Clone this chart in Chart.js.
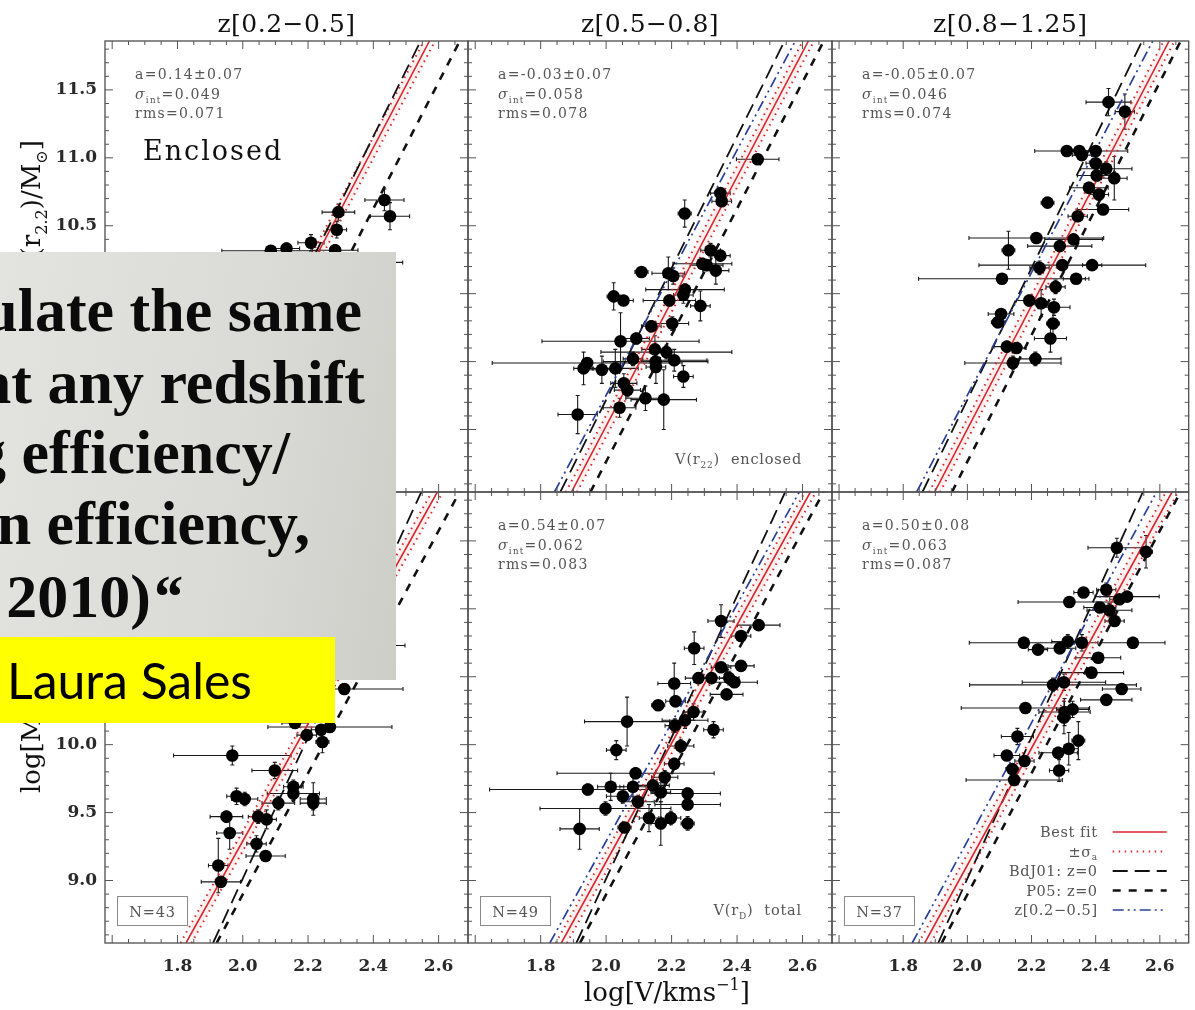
<!DOCTYPE html>
<html><head><meta charset="utf-8">
<script src="https://cdn.jsdelivr.net/npm/chart.js@4.4.1/dist/chart.umd.min.js"></script>
<style>
html,body{margin:0;padding:0;background:#fff;}
#wrap{position:relative;width:1195px;height:1010px;overflow:hidden;background:#fff;}
canvas.pc{position:absolute;left:0;top:0;}
#slide{position:absolute;left:0;top:252px;width:396px;height:428px;overflow:hidden;
 background:linear-gradient(100deg,#e3e3df 0%,#dadad6 60%,#cecec9 100%);}
.ql{position:absolute;white-space:nowrap;font-family:"Liberation Serif","Times New Roman",serif;font-weight:bold;font-size:62px;line-height:62px;color:#0b0b0b;}
.ql i{font-style:italic;}
#yellow{position:absolute;left:0;top:637px;width:335px;height:86px;background:#ffff00;overflow:hidden;}
#ls{position:absolute;left:7px;white-space:nowrap;font-family:Lato,"Open Sans",sans-serif;color:#000;line-height:1;}
</style>
</head>
<body>
<div id="wrap">
 <canvas id="c_tl" class="pc" width="1195" height="1010"></canvas>
 <canvas id="c_tm" class="pc" width="1195" height="1010"></canvas>
 <canvas id="c_tr" class="pc" width="1195" height="1010"></canvas>
 <canvas id="c_bl" class="pc" width="1195" height="1010"></canvas>
 <canvas id="c_bm" class="pc" width="1195" height="1010"></canvas>
 <canvas id="c_br" class="pc" width="1195" height="1010"></canvas>
 <div id="slide">
  <div class="ql" style="right:34px;top:27px">calculate the same</div>
  <div class="ql" style="right:31px;top:99px">at any redshift</div>
  <div class="ql" style="right:106px;top:169px">cooling efficiency/</div>
  <div class="ql" style="right:86px;top:240px">formation efficiency,</div>
  <div class="ql" style="right:214px;top:313px">(Dutton et al. 2010)<i>“</i></div>
 </div>
 <div id="yellow"><span id="ls">Laura Sales</span></div>
</div>
<script>
// ---------------- data ----------------
const xRange = [1.578, 2.69];
const yRange = [8.54, 11.86];
const xTickValues = [1.8, 2.0, 2.2, 2.4, 2.6];
const yTickValues = [9.0, 9.5, 10.0, 10.5, 11.0, 11.5];
const columnTitles = ['z[0.2\u22120.5]', 'z[0.5\u22120.8]', 'z[0.8\u22121.25]'];
const lineY = [8.54, 11.86];

// top row: enclosed mass
const tlX = [2.434, 2.451, 2.293, 2.288, 2.209, 2.134, 2.086, 2.283, 2.370];
const tlY = [10.69, 10.57, 10.60, 10.47, 10.375, 10.333, 10.316, 10.32, 10.23];
const tlXerr = [0.06, 0.06, 0.05, 0.03, 0.04, 0.04, 0.15, 0.07, 0.12];
const tlYerr = [0.08, 0.10, 0.06, 0.06, 0.06, 0.04, 0.03, 0.04, 0.05];

const tmX = [2.463,2.349,2.353,2.240,2.319,2.349,2.294,2.307,2.335,2.108,2.190,2.205,2.241,2.236,2.023,2.053,2.193,2.288,2.202,2.138,2.044,2.092,2.149,2.184,1.942,1.931,1.987,2.028,2.151,2.152,2.208,2.236,2.054,2.065,2.120,2.176,2.041,1.913,2.082];
const tmY = [10.99,10.74,10.68,10.59,10.32,10.28,10.22,10.21,10.17,10.16,10.15,10.13,10.03,9.99,9.98,9.95,9.95,9.91,9.78,9.76,9.65,9.67,9.59,9.57,9.49,9.45,9.44,9.45,9.50,9.46,9.51,9.39,9.34,9.29,9.23,9.22,9.16,9.11,9.52];
const tmXerr = [0.065,0.03,0.03,0.02,0.03,0.03,0.09,0.05,0.04,0.02,0.05,0.03,0.12,0.03,0.02,0.03,0.08,0.03,0.05,0.03,0.24,0.04,0.04,0.20,0.29,0.03,0.05,0.07,0.16,0.03,0.10,0.03,0.04,0.04,0.06,0.10,0.05,0.06,0.03];
const tmYerr = [0.03,0.04,0.03,0.10,0.05,0.03,0.04,0.03,0.10,0.02,0.12,0.06,0.04,0.06,0.10,0.03,0.04,0.11,0.05,0.04,0.21,0.04,0.10,0.05,0.04,0.12,0.10,0.14,0.05,0.12,0.08,0.08,0.07,0.05,0.09,0.22,0.07,0.14,0.05];

const trX = [2.440,2.491,2.310,2.349,2.400,2.357,2.400,2.433,2.403,2.458,2.379,2.410,2.250,2.423,2.344,2.215,2.331,2.128,2.288,2.296,2.389,2.225,2.108,2.339,2.275,2.193,2.230,2.270,2.105,2.095,2.267,2.259,2.123,2.153,2.142,2.212];
const trY = [11.41,11.34,11.05,11.05,11.05,11.02,10.96,10.92,10.87,10.85,10.78,10.73,10.67,10.62,10.57,10.41,10.40,10.32,10.35,10.21,10.21,10.19,10.11,10.11,10.05,9.95,9.93,9.90,9.85,9.79,9.78,9.67,9.61,9.60,9.49,9.52];
const trXerr = [0.07,0.03,0.10,0.04,0.10,0.03,0.03,0.08,0.06,0.04,0.06,0.03,0.02,0.08,0.03,0.21,0.09,0.02,0.10,0.26,0.03,0.03,0.26,0.04,0.03,0.04,0.02,0.05,0.04,0.02,0.02,0.05,0.04,0.03,0.15,0.08];
const trYerr = [0.10,0.13,0.03,0.03,0.03,0.03,0.05,0.05,0.04,0.16,0.04,0.04,0.03,0.03,0.03,0.03,0.03,0.14,0.03,0.03,0.03,0.05,0.03,0.03,0.05,0.04,0.10,0.06,0.03,0.04,0.10,0.10,0.04,0.03,0.05,0.05];

// bottom row: total mass
const blX = [2.311,2.160,2.267,2.240,2.244,2.196,1.968,2.098,2.155,2.155,1.981,2.006,2.216,2.216,2.109,1.950,2.073,2.047,1.960,2.042,2.070,1.925,1.933,2.437];
const blY = [10.41,10.16,10.13,10.11,10.02,10.07,9.92,9.81,9.69,9.64,9.62,9.60,9.60,9.57,9.57,9.47,9.45,9.47,9.35,9.27,9.18,9.11,8.99,10.73];
const blXerr = [0.18,0.04,0.19,0.03,0.02,0.03,0.18,0.07,0.03,0.08,0.03,0.04,0.04,0.04,0.05,0.05,0.03,0.03,0.04,0.03,0.06,0.03,0.06,0.06];
const blYerr = [0.04,0.04,0.04,0.03,0.08,0.03,0.07,0.06,0.05,0.05,0.06,0.05,0.12,0.05,0.05,0.04,0.07,0.05,0.12,0.06,0.04,0.20,0.04,0.03];

const bmX = [2.466,2.351,2.412,2.269,2.412,2.351,2.282,2.322,2.376,2.392,2.208,2.368,2.159,2.212,2.267,2.064,2.241,2.210,2.328,2.031,2.228,2.208,2.090,2.179,1.944,2.014,2.082,2.143,2.167,2.249,2.051,2.097,1.998,2.249,2.131,2.167,2.198,2.249,1.919,2.056];
const bmY = [10.88,10.91,10.80,10.71,10.58,10.57,10.49,10.49,10.49,10.46,10.45,10.37,10.29,10.32,10.24,10.17,10.18,10.14,10.11,9.96,9.99,9.86,9.79,9.76,9.67,9.69,9.69,9.70,9.65,9.64,9.62,9.58,9.53,9.56,9.46,9.42,9.46,9.42,9.38,9.39];
const bmXerr = [0.065,0.04,0.03,0.03,0.04,0.03,0.04,0.04,0.03,0.07,0.05,0.05,0.02,0.03,0.03,0.13,0.07,0.03,0.03,0.03,0.04,0.03,0.24,0.04,0.30,0.04,0.04,0.05,0.03,0.10,0.05,0.05,0.20,0.10,0.03,0.03,0.03,0.02,0.06,0.02];
const bmYerr = [0.03,0.12,0.03,0.12,0.03,0.03,0.04,0.04,0.05,0.03,0.15,0.03,0.03,0.04,0.06,0.18,0.06,0.05,0.06,0.07,0.05,0.04,0.04,0.05,0.04,0.10,0.10,0.06,0.07,0.04,0.05,0.04,0.05,0.04,0.10,0.16,0.05,0.05,0.15,0.03];

const brX = [2.466,2.557,2.362,2.318,2.433,2.413,2.443,2.474,2.498,2.459,2.176,2.220,2.288,2.313,2.357,2.516,2.408,2.387,2.267,2.301,2.481,2.433,2.181,2.303,2.328,2.301,2.156,2.346,2.123,2.283,2.316,2.178,2.146,2.286,2.140];
const brY = [11.45,11.42,11.12,11.05,11.14,11.01,10.99,11.07,11.09,10.91,10.75,10.70,10.71,10.76,10.75,10.75,10.64,10.53,10.44,10.46,10.41,10.33,10.27,10.24,10.26,10.20,10.06,10.03,9.92,9.94,9.97,9.88,9.74,9.81,9.82];
const brXerr = [0.09,0.02,0.03,0.16,0.03,0.05,0.07,0.03,0.10,0.03,0.17,0.03,0.05,0.05,0.05,0.10,0.07,0.10,0.26,0.13,0.06,0.08,0.20,0.08,0.05,0.02,0.05,0.02,0.04,0.06,0.03,0.03,0.15,0.03,0.02];
const brYerr = [0.07,0.12,0.03,0.03,0.05,0.03,0.05,0.03,0.03,0.03,0.04,0.03,0.04,0.05,0.06,0.04,0.03,0.03,0.05,0.06,0.03,0.03,0.03,0.10,0.06,0.12,0.06,0.14,0.03,0.04,0.12,0.03,0.03,0.08,0.03];

// relation lines: x at y = lineY[0] and at y = lineY[1]
const tlFit = [1.845, 2.572], tlSigLo = [1.828, 2.555], tlSigHi = [1.862, 2.589];
const tmFit = [1.894, 2.618], tmSigLo = [1.877, 2.601], tmSigHi = [1.911, 2.635];
const trFit = [1.898, 2.629], trSigLo = [1.881, 2.612], trSigHi = [1.915, 2.646];
const blFit = [1.826, 2.596], blSigLo = [1.809, 2.579], blSigHi = [1.843, 2.613];
const bmFit = [1.863, 2.624], bmSigLo = [1.846, 2.607], bmSigHi = [1.880, 2.641];
const brFit = [1.867, 2.638], brSigLo = [1.848, 2.619], brSigHi = [1.886, 2.657];
const topBdJ01 = [1.860, 2.545], topP05 = [1.952, 2.665], topLowZ = [1.842, 2.578];
const botBdJ01 = [1.909, 2.547], botP05 = [1.920, 2.664], botLowZ = [1.828, 2.590];

// fit statistics [a, sigma_int, rms]
const statsTL = ['0.14\u00b10.07', '0.049', '0.071'];
const statsTM = ['-0.03\u00b10.07', '0.058', '0.078'];
const statsTR = ['-0.05\u00b10.07', '0.046', '0.074'];
const statsBM = ['0.54\u00b10.07', '0.062', '0.083'];
const statsBR = ['0.50\u00b10.08', '0.063', '0.087'];
const sampleN = ['N=43', 'N=49', 'N=37'];
const legendLabels = ['Best fit', '\u00b1\u03c3', 'BdJ01: z=0', 'P05: z=0', 'z[0.2\u22120.5]'];

// ---------------- drawing helpers ----------------
const W = 1195, H = 1010;
const SERIF = '"DejaVu Serif", serif';
const RED = '#d8262c';
const ST = {
  fit:  {c: RED, w: 1.6, d: []},
  sig:  {c: RED, w: 2.0, d: [1.5, 4.5]},
  bdj:  {c: '#111', w: 1.8, d: [15, 7]},
  p05:  {c: '#111', w: 2.6, d: [8, 8]},
  lowz: {c: '#2a3f9c', w: 1.7, d: [11, 4, 2, 4, 2, 4]}
};

function segFont(m, size, fam){
  const sz = (m === 'b' || m === 'p') ? size * 0.62 : size;
  return (m === 'i' ? 'italic ' : '') + sz + 'px ' + fam;
}
function richWidth(ctx, segs, size, fam, ls){
  let w = 0;
  ctx.letterSpacing = (ls || 0) + 'px';
  for (const [t, m] of segs){ ctx.font = segFont(m, size, fam); w += ctx.measureText(t).width; }
  return w;
}
function richDraw(ctx, segs, x, y, size, fam, color, align, ls){
  const w = richWidth(ctx, segs, size, fam, ls);
  let cx = align === 'right' ? x - w : align === 'center' ? x - w / 2 : x;
  ctx.fillStyle = color; ctx.textAlign = 'left'; ctx.textBaseline = 'alphabetic';
  ctx.letterSpacing = (ls || 0) + 'px';
  for (const [t, m] of segs){
    ctx.font = segFont(m, size, fam);
    const dy = m === 'b' ? size * 0.26 : m === 'p' ? -size * 0.42 : 0;
    ctx.fillText(t, cx, y + dy);
    cx += ctx.measureText(t).width;
  }
  ctx.letterSpacing = '0px';
  return w;
}

const decor = {
  id: 'decor',
  beforeDatasetsDraw(chart, args, o){
    const {ctx, chartArea: a, scales: {x, y}} = chart;
    ctx.save();
    ctx.beginPath(); ctx.rect(a.left, a.top, a.right - a.left, a.bottom - a.top); ctx.clip();
    ctx.strokeStyle = '#1a1a1a'; ctx.lineWidth = 1.1;
    chart.data.datasets.forEach(ds => {
      if (!ds.errX) return;
      ds.data.forEach((p, i) => {
        const px = x.getPixelForValue(p.x), py = y.getPixelForValue(p.y);
        const x1 = x.getPixelForValue(p.x - ds.errX[i]), x2 = x.getPixelForValue(p.x + ds.errX[i]);
        const y1 = y.getPixelForValue(p.y - ds.errY[i]), y2 = y.getPixelForValue(p.y + ds.errY[i]);
        ctx.beginPath();
        ctx.moveTo(x1, py); ctx.lineTo(x2, py);
        ctx.moveTo(px, y1); ctx.lineTo(px, y2);
        ctx.moveTo(x1, py - 2); ctx.lineTo(x1, py + 2);
        ctx.moveTo(x2, py - 2); ctx.lineTo(x2, py + 2);
        ctx.moveTo(px - 2, y1); ctx.lineTo(px + 2, y1);
        ctx.moveTo(px - 2, y2); ctx.lineTo(px + 2, y2);
        ctx.stroke();
      });
    });
    ctx.restore();
  },
  afterDraw(chart, args, o){
    const {ctx, chartArea: a, scales: {x, y}} = chart;
    ctx.save();
    ctx.strokeStyle = '#4d4d4d'; ctx.lineWidth = 1.3;
    ctx.strokeRect(a.left, a.top, a.right - a.left, a.bottom - a.top);
    ctx.lineWidth = 1; ctx.strokeStyle = '#555';
    ctx.beginPath();
    for (let k = 32; k <= 53; k++){
      const v = k * 0.05, px = x.getPixelForValue(v), L = (k % 4 === 0) ? 8 : 4;
      ctx.moveTo(px, a.bottom); ctx.lineTo(px, a.bottom - L);
      ctx.moveTo(px, a.top); ctx.lineTo(px, a.top + L);
    }
    for (let k = 86; k <= 118; k++){
      const v = k / 10, py = y.getPixelForValue(v), L = (k % 5 === 0) ? 8 : 4;
      ctx.moveTo(a.left, py); ctx.lineTo(a.left + L, py);
      ctx.moveTo(a.right, py); ctx.lineTo(a.right - L, py);
    }
    ctx.stroke();

    const grey = '#555';
    if (o.title) richDraw(ctx, [[o.title, 'n']], (a.left + a.right) / 2, 32, 25, SERIF, '#111', 'center', 0.5);
    if (o.stats){
      const sx = a.left + 30, sy = a.top + 38;
      richDraw(ctx, [['a=' + o.stats[0], 'n']], sx, sy, 14, SERIF, grey, 'left', 1.3);
      richDraw(ctx, [['\u03c3', 'i'], ['int', 'b'], ['=' + o.stats[1], 'n']], sx, sy + 20, 14, SERIF, grey, 'left', 1.3);
      richDraw(ctx, [['rms=' + o.stats[2], 'n']], sx, sy + 39, 14, SERIF, grey, 'left', 1.3);
    }
    if (o.enclosed) richDraw(ctx, [[o.enclosed, 'n']], a.left + 38, a.top + 119, 27, SERIF, '#111', 'left', 2);
    if (o.note) richDraw(ctx, o.note, a.right - 30, a.bottom - 28, 14.5, SERIF, grey, 'right', 0.8);
    if (o.nbox){
      ctx.strokeStyle = '#8a8a8a'; ctx.lineWidth = 1;
      ctx.strokeRect(a.left + 12.5, a.bottom - 46.5, 70, 29);
      richDraw(ctx, [[o.nbox, 'n']], a.left + 47.5, a.bottom - 26, 14.5, SERIF, grey, 'center', 0.8);
    }
    if (o.legend){
      const rows = [
        [[[legendLabels[0], 'n']], ST.fit],
        [[[legendLabels[1], 'n'], ['a', 'b']], ST.sig],
        [[[legendLabels[2], 'n']], ST.bdj],
        [[[legendLabels[3], 'n']], ST.p05],
        [[[legendLabels[4], 'n']], ST.lowz]
      ];
      rows.forEach((r, i) => {
        const cy = a.bottom - 111 + i * 19.5;
        richDraw(ctx, r[0], a.right - 91, cy + 5, 14.5, SERIF, grey, 'right', 0.6);
        ctx.save();
        ctx.strokeStyle = r[1].c; ctx.lineWidth = r[1].w; ctx.setLineDash(r[1].d);
        ctx.beginPath(); ctx.moveTo(a.right - 76, cy); ctx.lineTo(a.right - 22, cy); ctx.stroke();
        ctx.restore();
      });
    }
    if (o.ytitle){
      const t = o.ytitle;
      const w = richWidth(ctx, t.segs, 26, SERIF, 0);
      const start = t.anchor === 'end' ? t.pos + w : t.pos;
      ctx.save();
      ctx.translate(t.x, start); ctx.rotate(-Math.PI / 2);
      richDraw(ctx, t.segs, 0, 0, 26, SERIF, '#111', 'left', 0);
      ctx.restore();
    }
    if (o.xtitle) richDraw(ctx, o.xtitle, 667, 1001, 26, SERIF, '#111', 'center', 0);
    ctx.restore();
  }
};

const AREAS = {
  tl: [105, 41, 468, 492], tm: [468, 41, 832, 492], tr: [832, 41, 1193, 492],
  bl: [105, 492, 468, 943], bm: [468, 492, 832, 943], br: [832, 492, 1193, 943]
};

function lineDs(xs, st, extra){
  return Object.assign({
    type: 'scatter', showLine: true,
    data: [{x: xs[0], y: lineY[0]}, {x: xs[1], y: lineY[1]}],
    pointRadius: 0, borderColor: st.c, borderWidth: st.w, borderDash: st.d, fill: false
  }, extra || {});
}

function build(id, c){
  const [l, t, r, b] = AREAS[id];
  const YW = 105, XH = 40;
  const pts = c.X.map((v, i) => ({x: v, y: c.Y[i]}));
  const datasets = [
    {type: 'scatter', data: pts, pointRadius: 6.3, pointHoverRadius: 6.3, backgroundColor: '#000', borderWidth: 0, errX: c.Xe, errY: c.Ye},
    lineDs(c.fit, ST.fit)
  ];
  if (c.lowz) datasets.push(lineDs(c.lowz, ST.lowz));
  datasets.push(lineDs(c.bdj, ST.bdj));
  datasets.push(lineDs(c.p05, ST.p05));
  datasets.push(lineDs(c.sigLo, ST.sig, {fill: '+1', backgroundColor: 'rgba(255,90,90,0.09)'}));
  datasets.push(lineDs(c.sigHi, ST.sig));

  const tickFont = {family: SERIF, size: 17, weight: 'bold'};
  new Chart(document.getElementById('c_' + id), {
    type: 'scatter',
    data: {datasets},
    plugins: [decor],
    options: {
      responsive: false, animation: false, devicePixelRatio: 1,
      layout: {padding: {left: c.showY ? l - YW : l, top: t, right: W - r, bottom: c.showX ? H - b - XH : H - b}},
      plugins: {legend: {display: false}, tooltip: {enabled: false}, decor: c.decor},
      scales: {
        x: {type: 'linear', min: xRange[0], max: xRange[1], display: !!c.showX,
            afterFit: s => { if (c.showX) s.height = XH; },
            afterBuildTicks: s => { s.ticks = xTickValues.map(v => ({value: v})); },
            grid: {display: false, drawTicks: false}, border: {display: false},
            ticks: {font: tickFont, color: '#2a2a2a', padding: 13, callback: v => Number(v).toFixed(1)}},
        y: {type: 'linear', min: yRange[0], max: yRange[1], display: !!c.showY,
            afterFit: s => { if (c.showY) s.width = YW; },
            afterBuildTicks: s => { s.ticks = yTickValues.map(v => ({value: v})); },
            grid: {display: false, drawTicks: false}, border: {display: false},
            ticks: {font: tickFont, color: '#2a2a2a', padding: 8, callback: v => Number(v).toFixed(1)}}
      }
    }
  });
}

build('tl', {X: tlX, Y: tlY, Xe: tlXerr, Ye: tlYerr, fit: tlFit, sigLo: tlSigLo, sigHi: tlSigHi, bdj: topBdJ01, p05: topP05, showY: true,
  decor: {title: columnTitles[0], stats: statsTL, enclosed: 'Enclosed',
    ytitle: {x: 40, anchor: 'end', pos: 140, segs: [['log[M', 'n'], ['*', 'b'], ['(r', 'n'], ['2.2', 'b'], [')/M', 'n'], ['\u2299', 'b'], [']', 'n']]}}});
build('tm', {X: tmX, Y: tmY, Xe: tmXerr, Ye: tmYerr, fit: tmFit, sigLo: tmSigLo, sigHi: tmSigHi, bdj: topBdJ01, p05: topP05, lowz: topLowZ,
  decor: {title: columnTitles[1], stats: statsTM, note: [['V(r', 'n'], ['22', 'b'], [')  enclosed', 'n']]}});
build('tr', {X: trX, Y: trY, Xe: trXerr, Ye: trYerr, fit: trFit, sigLo: trSigLo, sigHi: trSigHi, bdj: topBdJ01, p05: topP05, lowz: topLowZ,
  decor: {title: columnTitles[2], stats: statsTR}});
build('bl', {X: blX, Y: blY, Xe: blXerr, Ye: blYerr, fit: blFit, sigLo: blSigLo, sigHi: blSigHi, bdj: botBdJ01, p05: botP05, showY: true, showX: true,
  decor: {nbox: sampleN[0],
    ytitle: {x: 40, anchor: 'start', pos: 793, segs: [['log[M', 'n'], ['*', 'b'], ['/M', 'n'], ['\u2299', 'b'], [']', 'n']]}}});
build('bm', {X: bmX, Y: bmY, Xe: bmXerr, Ye: bmYerr, fit: bmFit, sigLo: bmSigLo, sigHi: bmSigHi, bdj: botBdJ01, p05: botP05, lowz: botLowZ, showX: true,
  decor: {stats: statsBM, nbox: sampleN[1], note: [['V(r', 'n'], ['D', 'b'], [')  total', 'n']],
    xtitle: [['log[V/kms', 'n'], ['\u22121', 'p'], [']', 'n']]}});
build('br', {X: brX, Y: brY, Xe: brXerr, Ye: brYerr, fit: brFit, sigLo: brSigLo, sigHi: brSigHi, bdj: botBdJ01, p05: botP05, lowz: botLowZ, showX: true,
  decor: {stats: statsBR, nbox: sampleN[2], legend: true}});

(function(){
  const el = document.getElementById('ls');
  const cv = document.createElement('canvas').getContext('2d');
  cv.font = '100px Lato';
  const w = cv.measureText(el.textContent).width;
  const size = 100 * 245 / w;
  el.style.fontSize = size + 'px';
  el.style.top = (63 - 0.887 * size) + 'px';
})();
</script>
</body></html>
